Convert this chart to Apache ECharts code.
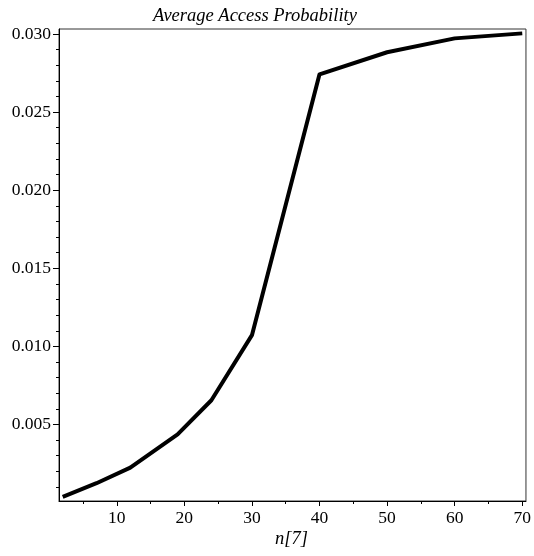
<!DOCTYPE html>
<html>
<head>
<meta charset="utf-8">
<script src="https://cdn.jsdelivr.net/npm/echarts@6/dist/echarts.min.js"></script>
<style>html,body{margin:0;padding:0;background:#fff}#c{width:534px;height:556px}</style>
</head>
<body>
<div id="c"></div>
<script>
const titleText = 'Average Access Probability';
const xName = 'n[7]';
const xValues = [2, 7, 12, 19, 24, 30, 40, 50, 60, 70];
const yValues = [0.00037, 0.00124, 0.00224, 0.00436, 0.00655, 0.01072, 0.02742, 0.02883, 0.02972, 0.03004];
const xMajorTicks = [10, 20, 30, 40, 50, 60, 70];
const xMinorTicks = [5, 15, 25, 35, 45, 55, 65];
const yMajorTicks = [0.005, 0.010, 0.015, 0.020, 0.025, 0.030];
const yMinorTicks = [0.001,0.002,0.003,0.004,0.006,0.007,0.008,0.009,0.011,0.012,0.013,0.014,0.016,0.017,0.018,0.019,0.021,0.022,0.023,0.024,0.026,0.027,0.028,0.029];

const FONT = '"Liberation Serif", "Times New Roman", serif';
const X_MIN = 1.45, X_MAX = 70.55;
const Y_MIN = 0.0001, Y_MAX = 0.03032;

const chart = echarts.init(document.getElementById('c'), null, {renderer: 'canvas'});

function xAxisDef(ticks, len, labels, line) {
  return {
    type: 'value', min: X_MIN, max: X_MAX, position: 'bottom',
    splitLine: {show: false},
    axisLine: {show: line, onZero: false, lineStyle: {color: '#000', width: 1}},
    axisTick: {show: true, customValues: ticks, length: len, inside: false, lineStyle: {color: '#000', width: 1}},
    axisLabel: {show: labels, customValues: ticks, margin: 8, color: '#000', fontFamily: FONT, fontSize: 17.5,
      formatter: v => String(Math.round(v))}
  };
}
function yAxisDef(ticks, len, labels, line) {
  return {
    type: 'value', min: Y_MIN, max: Y_MAX, position: 'left',
    splitLine: {show: false},
    axisLine: {show: line, onZero: false, lineStyle: {color: '#000', width: 1}},
    axisTick: {show: true, customValues: ticks, length: len, inside: false, lineStyle: {color: '#000', width: 1}},
    axisLabel: {show: labels, customValues: ticks, margin: 8, color: '#000', fontFamily: FONT, fontSize: 17.5,
      formatter: v => v.toFixed(3)}
  };
}

chart.setOption({
  animation: false,
  backgroundColor: '#fff',
  grid: {left: 59, right: 6, top: 29, bottom: 55, show: true, borderColor: '#333', borderWidth: 1, backgroundColor: 'transparent'},
  title: {
    text: titleText, left: 250, top: 2, textAlign: 'center',
    textStyle: {fontFamily: FONT, fontStyle: 'italic', fontWeight: 'normal', fontSize: 18.5, color: '#000'}
  },
  graphic: [{
    type: 'text', left: 275, top: 530,
    style: {text: xName, fontFamily: FONT, fontStyle: 'italic', fontSize: 18.5, fill: '#000'}
  }],
  xAxis: [xAxisDef(xMajorTicks, 5, true, true), xAxisDef(xMinorTicks, 3, false, false)],
  yAxis: [yAxisDef(yMajorTicks, 6, true, true), yAxisDef(yMinorTicks, 3, false, false)],
  series: [{
    type: 'line', xAxisIndex: 0, yAxisIndex: 0,
    data: xValues.map((x, i) => [x, yValues[i]]),
    showSymbol: false, symbol: 'none',
    lineStyle: {color: '#000', width: 4, join: 'round'},
    clip: false
  }]
});
</script>
</body>
</html>
